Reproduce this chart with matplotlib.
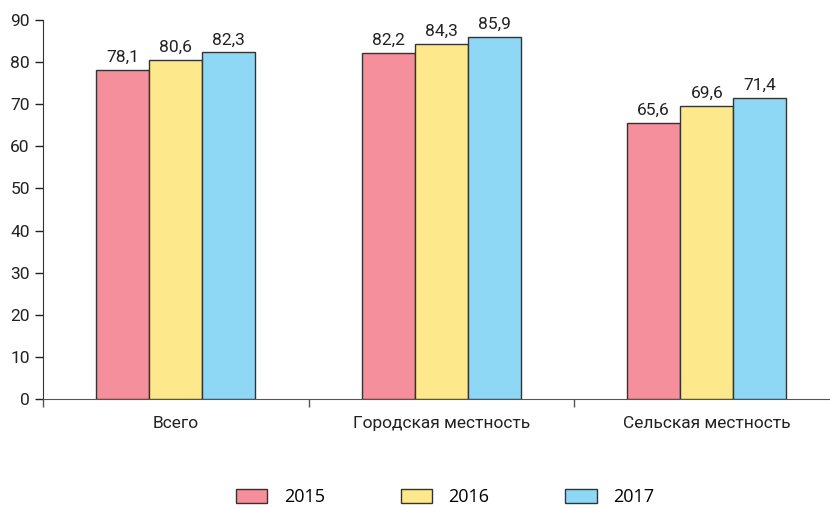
import matplotlib
matplotlib.use("Agg")
import matplotlib.pyplot as plt
import numpy as np

# Data
categories = ["Всего", "Городская местность", "Сельская местность"]
years = ["2015", "2016", "2017"]
values_2015 = [78.1, 82.2, 65.6]
values_2016 = [80.6, 84.3, 69.6]
values_2017 = [82.3, 85.9, 71.4]
y_ticks = [0, 10, 20, 30, 40, 50, 60, 70, 80, 90]

COLORS = ["#F48F9B", "#FDE98B", "#8ED8F5"]
EDGE = "#333333"
FONT = ["Roboto", "DejaVu Sans"]

plt.rcParams["font.family"] = FONT

W, H = 830, 508
fig = plt.figure(figsize=(W / 100, H / 100), dpi=100)
ax_left, ax_right, ax_bottom, ax_top = 43, 839.5, 399, 20
ax = fig.add_axes([ax_left / W, (H - ax_bottom) / H,
                   (ax_right - ax_left) / W, (ax_bottom - ax_top) / H])

x = np.arange(len(categories))
width = 0.2
series = [values_2015, values_2016, values_2017]
for i, (vals, col, yr) in enumerate(zip(series, COLORS, years)):
    bars = ax.bar(x + (i - 1) * width, vals, width, color=col,
                  edgecolor=EDGE, linewidth=1.0, label=yr, zorder=3)
    for b, v in zip(bars, vals):
        ax.text(b.get_x() + b.get_width() / 2, v + 1.2,
                f"{v:.1f}".replace(".", ","), ha="center", va="bottom",
                fontsize=12.5, color="#222222")

ax.set_xlim(-0.5, 2.5)
ax.set_ylim(0, 90)
ax.set_yticks(y_ticks)
ax.tick_params(axis="y", labelsize=12.5, length=6, width=1, direction="out",
               colors="#222222")
ax.set_xticks(x)
ax.set_xticklabels(categories, fontsize=12.5, color="#222222")
ax.tick_params(axis="x", length=0, pad=12)
ax.set_xticks([-0.5, 0.5, 1.5, 2.5], minor=True)
ax.tick_params(axis="x", which="minor", length=6, width=1, color="#555555")

for s in ["top", "right"]:
    ax.spines[s].set_visible(False)
ax.spines["left"].set_color("#333333")
ax.spines["bottom"].set_color("#555555")

handles, labels = ax.get_legend_handles_labels()
fig.legend(handles, labels, loc="center", bbox_to_anchor=(445 / W, 1 - 497 / H),
           ncol=3, frameon=False, prop={"family": ["Open Sans", "DejaVu Sans"], "size": 13},
           handlelength=1.75, handleheight=0.85, handletextpad=0.9,
           columnspacing=4.2)

fig.savefig("out.png", dpi=100)
